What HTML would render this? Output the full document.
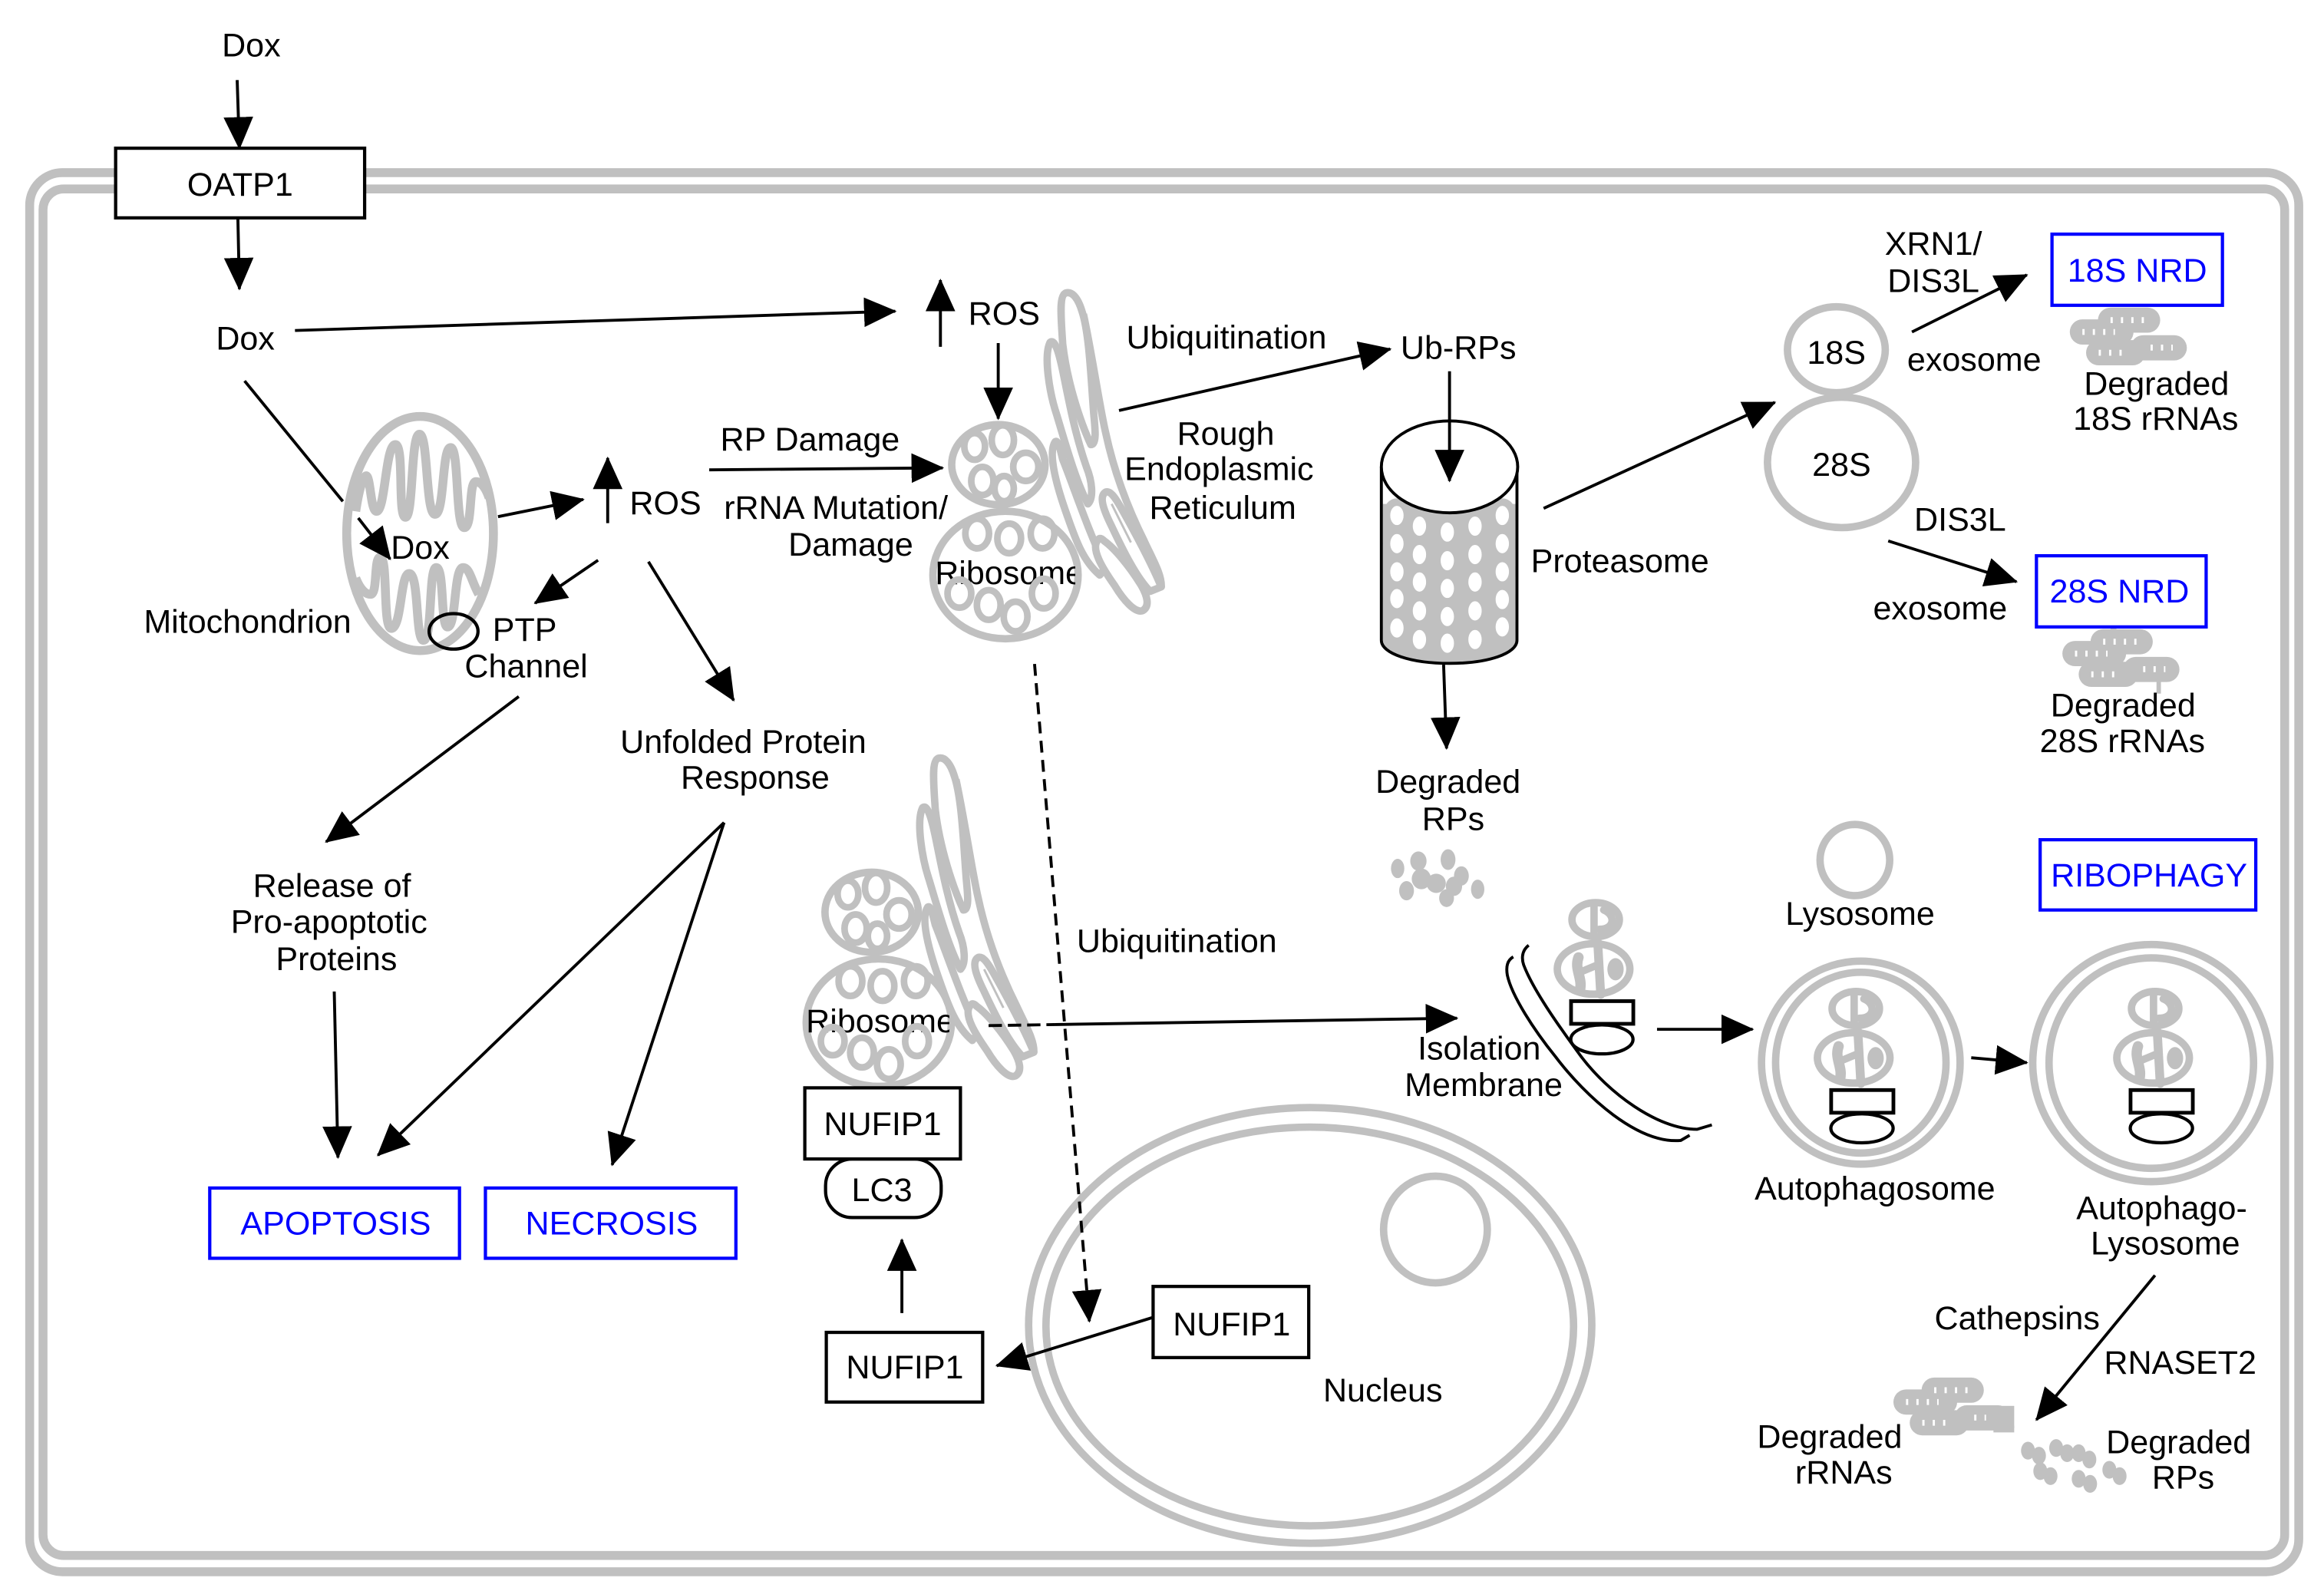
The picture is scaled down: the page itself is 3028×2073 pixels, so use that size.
<!DOCTYPE html>
<html><head><meta charset="utf-8"><title>Dox ribosome diagram</title>
<style>
html,body{margin:0;padding:0;background:#fff}
svg{display:block}
text{font-family:"Liberation Sans",Arial,sans-serif;font-size:22.3px;fill:#000;text-anchor:middle}
.b{fill:#0000ff}
.g{fill:none;stroke:#c0c0c0;stroke-width:5}
.c{fill:none;stroke:#c0c0c0;stroke-width:4.5}
.er{fill:#fff;stroke:#c0c0c0;stroke-width:5;stroke-linejoin:round}
.a{fill:none;stroke:#000;stroke-width:2;marker-end:url(#h)}
.bx{fill:#fff;stroke:#000;stroke-width:2.2}
.bl{fill:#fff;stroke:#0000ff;stroke-width:2.2}
.cap{fill:none;stroke:#c0c0c0;stroke-linecap:round;stroke-width:17}
.dot{fill:none;stroke:#fff;stroke-width:4;stroke-dasharray:1.5 5.5}
.p{fill:#c0c0c0}
.r{fill:#fff;stroke:#c0c0c0;stroke-width:5}
</style></head><body>
<svg xmlns="http://www.w3.org/2000/svg" width="3028" height="2073" viewBox="0 0 1568 1073.5">
<defs>
<marker id="h" markerUnits="userSpaceOnUse" viewBox="0 0 22 20" refX="21" refY="10" markerWidth="22" markerHeight="20" orient="auto"><path d="M0 0L22 10L0 20Z" fill="#000"/></marker>
<clipPath id="c1"><rect x="600" y="360" width="125.5" height="50"/></clipPath>
<clipPath id="c2"><rect x="520" y="665" width="120.5" height="50"/></clipPath>
<g id="rib">
<ellipse class="g" cx="678.4" cy="388" rx="49" ry="43"/>
<ellipse class="r" cx="673.6" cy="313.5" rx="31.5" ry="27"/>
<g class="c">
<ellipse cx="657.6" cy="301.2" rx="7" ry="9"/><ellipse cx="676.6" cy="297" rx="7.5" ry="10"/><ellipse cx="692.1" cy="315" rx="8.5" ry="9.5"/><ellipse cx="662.8" cy="324.5" rx="7.5" ry="9.5"/><ellipse cx="677.5" cy="329.7" rx="6.5" ry="8.5"/>
<ellipse cx="659.3" cy="360" rx="8" ry="10"/><ellipse cx="680.9" cy="363.3" rx="8" ry="10"/><ellipse cx="703.4" cy="360" rx="8" ry="10"/>
</g></g>
<g id="ribl" class="c">
<ellipse cx="647.3" cy="400.5" rx="8" ry="9.5"/><ellipse cx="667.1" cy="408.2" rx="8" ry="10"/><ellipse cx="685.2" cy="416" rx="8" ry="10"/><ellipse cx="704.2" cy="400.5" rx="8" ry="10"/>
</g>
<g id="er">
<path class="er" d="M712 298C707 305 712 325 719 345C725 362 730 378 742 388L746 383C733 355 725 330 717 310C715 302 714 297 712 298Z"/>
<path class="er" d="M708.5 231C704 240 708 265 713 280C719 300 726 325 734 340C738 336 737 325 733 315C726 295 722 275 718 255C715 240 712 228 708.5 231Z"/>
<path class="er" d="M719.8 197.5C714 198 716 215 717 232C720 258 729 285 736 300C740 300 739 290 738 280C736 255 735 225 730 210C727 200 723 197 719.8 197.5Z"/>
<path class="g" d="M731 212C737 240 742 275 746 292C752 320 762 345 772 365C778 378 784 388 783.5 396"/>
<path class="er" d="M746 332C741 335 745 345 750 355C758 372 767 390 776 399L783.5 396C776 378 765 358 756 342C752 335 749 331 746 332Z"/>
<path d="M750 340L763 366" fill="none" stroke="#c0c0c0" stroke-width="1.5"/>
<path class="er" d="M741 364C735 370 745 385 752 395C758 405 766 414 771 412C776 409 774 402 770 395C762 382 752 370 745 365C743 363 742 363 741 364Z"/>
</g>
<g id="cargo">
<ellipse class="g" cx="1076.6" cy="620.5" rx="16" ry="11.5"/>
<ellipse class="g" cx="1075.2" cy="653.8" rx="24.5" ry="17"/>
<g fill="none" stroke="#c0c0c0" stroke-width="5" stroke-linecap="round">
<path d="M1075.5 610V631"/><path d="M1082 614C1090 617 1090 627 1079 627"/>
<path d="M1078 636L1080 671" style="stroke-width:6"/>
<path d="M1065 646C1062 654 1068 660 1066 668" style="stroke-width:7"/><path d="M1066 656L1078 651"/>
</g>
<ellipse cx="1090" cy="654" rx="5.5" ry="7.5" fill="#c0c0c0"/>
<rect class="bx" x="1060" y="675.5" width="42" height="15.3" style="stroke-width:2.5"/>
<ellipse class="bx" cx="1080.8" cy="701.3" rx="21" ry="9.8"/>
</g>
<g id="blob">
<g class="cap">
<path d="M1424 216H1449"/><path d="M1405 224H1431"/><path d="M1416 238H1439"/><path d="M1446 234.7H1467"/>
</g>
<g class="dot">
<path d="M1424 216H1448"/><path d="M1405 224H1427"/><path d="M1416 238H1433"/><path d="M1451 234.5H1466"/>
</g>
</g>
</defs>
<rect width="1568" height="1073.5" fill="#fff"/>

<!-- cell -->
<rect class="g" x="20" y="116.5" width="1531" height="944" rx="22" style="stroke-width:6"/>
<rect class="g" x="29" y="127.5" width="1512.5" height="922" rx="14" style="stroke-width:6"/>
<rect class="bx" x="78" y="100" width="168" height="47"/>

<!-- mitochondrion -->
<ellipse class="g" cx="283.4" cy="360" rx="49.5" ry="79" style="stroke-width:6"/>
<path class="g" d="M240 345C243 325 246 321 247 321C250 321 250 345 254 345C260 345 260 300 266.7 300C273 300 268 349 273.6 349C279 349 277 293 283 293C289 293 287 347 293.5 347C300 347 298 302 304 302C310 302 307 356 313.3 356C319 356 316 325 321 325C325 325 328 330 330 336" style="stroke-width:6"/>
<path class="g" d="M240 390C244 400 248 401 250 401C255 401 252 376 256.5 376C262 376 258 424 264 424C271 424 270 387 276 387C283 387 280 432 285.7 432C292 432 289 383 294.3 383C300 383 297 423 302 423C308 423 306 383 312.4 383C317 383 318 392 323 401" style="stroke-width:6"/>
<ellipse cx="306" cy="426" rx="16.5" ry="12" fill="none" stroke="#000" stroke-width="2.2"/>

<!-- ribosomes + ER -->
<use href="#rib"/>
<text x="681" y="394" clip-path="url(#c1)">Ribosome</text>
<use href="#ribl"/>
<use href="#er"/>
<use href="#rib" transform="translate(-85.5,302)"/>
<text x="594" y="696.5" clip-path="url(#c2)">Ribosome</text>
<use href="#ribl" transform="translate(-85.5,302)"/>
<use href="#er" transform="translate(-86,314)"/>

<!-- nucleus -->
<ellipse class="g" cx="884" cy="894.3" rx="190" ry="147"/>
<ellipse class="g" cx="883.7" cy="895" rx="178" ry="134.5"/>
<ellipse class="g" cx="968.5" cy="829.6" rx="35" ry="36"/>

<!-- proteasome -->
<path d="M933 340V432C933 441 952 446.6 978 446.6C1004 446.6 1022.5 441 1022.5 432V340Z" fill="#c0c0c0"/>
<g class="r">
<ellipse cx="942.5" cy="347.8" rx="7" ry="9"/><ellipse cx="942.5" cy="366.8" rx="7" ry="9"/><ellipse cx="942.5" cy="385.8" rx="7" ry="9"/><ellipse cx="942.5" cy="403.9" rx="7" ry="9"/><ellipse cx="942.5" cy="423.7" rx="7" ry="9"/>
<ellipse cx="1013.6" cy="347.8" rx="7" ry="9"/><ellipse cx="1013.6" cy="366.8" rx="7" ry="9"/><ellipse cx="1013.6" cy="385.8" rx="7" ry="9"/><ellipse cx="1013.6" cy="404.5" rx="7" ry="9"/><ellipse cx="1013.6" cy="423" rx="7" ry="9"/>
<ellipse cx="957.7" cy="355" rx="7" ry="9"/><ellipse cx="957.7" cy="374.2" rx="7" ry="9"/><ellipse cx="957.7" cy="392.7" rx="7" ry="9"/><ellipse cx="957.7" cy="412.2" rx="7" ry="9"/><ellipse cx="957.7" cy="431.5" rx="7" ry="9"/>
<ellipse cx="995.2" cy="355" rx="7" ry="9"/><ellipse cx="995.2" cy="374.2" rx="7" ry="9"/><ellipse cx="995.2" cy="392.7" rx="7" ry="9"/><ellipse cx="995.2" cy="412.2" rx="7" ry="9"/><ellipse cx="995.2" cy="431.5" rx="7" ry="9"/>
<ellipse cx="976.5" cy="359" rx="7" ry="9"/><ellipse cx="976.5" cy="378.3" rx="7" ry="9"/><ellipse cx="976.5" cy="397" rx="7" ry="9"/><ellipse cx="976.5" cy="416" rx="7" ry="9"/><ellipse cx="976.5" cy="434" rx="7" ry="9"/>
</g>
<path d="M932 315V432C932 441 952 447.6 978 447.6C1004 447.6 1023.5 441 1023.5 432V315" fill="none" stroke="#000" stroke-width="2"/>
<ellipse cx="978" cy="315" rx="46" ry="31" fill="#fff" stroke="#000" stroke-width="2"/>

<!-- 18S/28S -->
<ellipse class="g" cx="1239" cy="236" rx="33" ry="29"/>
<ellipse class="g" cx="1242.5" cy="312" rx="50" ry="44" style="fill:#fff"/>

<!-- degraded rRNA blobs -->
<use href="#blob"/>
<use href="#blob" transform="translate(-5,217)"/>
<rect x="1424" y="420" width="4" height="8" fill="#c0c0c0"/>
<rect x="1455" y="456" width="3" height="12" fill="#c0c0c0"/>
<use href="#blob" transform="translate(-119,722)"/>
<rect x="1340" y="948.6" width="19" height="15" fill="#c0c0c0"/>
<rect x="1345" y="962" width="14" height="4.5" fill="#c0c0c0"/>

<!-- degraded RP dots -->
<g class="p">
<ellipse cx="943" cy="586" rx="4.5" ry="6.5"/><ellipse cx="957" cy="581" rx="5.5" ry="6.5"/><ellipse cx="977" cy="580" rx="5" ry="7"/><ellipse cx="959" cy="593" rx="6.5" ry="7"/><ellipse cx="949" cy="601" rx="5" ry="6.5"/><ellipse cx="969" cy="596" rx="6.5" ry="6.5"/><ellipse cx="981" cy="598" rx="5.5" ry="6.5"/><ellipse cx="976" cy="606" rx="5" ry="6"/><ellipse cx="997" cy="600" rx="4.5" ry="6.5"/><ellipse cx="986" cy="591" rx="5" ry="6.5"/>
<ellipse cx="1368.3" cy="978.8" rx="4.7" ry="6"/><ellipse cx="1375.7" cy="982.2" rx="4.7" ry="6"/><ellipse cx="1376.6" cy="992.6" rx="4.7" ry="6"/><ellipse cx="1383.5" cy="996" rx="4.7" ry="6"/><ellipse cx="1387.3" cy="977" rx="4.7" ry="6"/><ellipse cx="1394.7" cy="980.5" rx="4.7" ry="6"/><ellipse cx="1402.5" cy="980.5" rx="4.7" ry="6"/><ellipse cx="1409.7" cy="984.8" rx="4.7" ry="6"/><ellipse cx="1402.5" cy="997.8" rx="4.7" ry="6"/><ellipse cx="1410.2" cy="1001.2" rx="4.7" ry="6"/><ellipse cx="1423.2" cy="991.7" rx="4.7" ry="6"/><ellipse cx="1430.1" cy="996" rx="4.7" ry="6"/>
</g>

<!-- lysosome / autophagy -->
<ellipse class="g" cx="1251.5" cy="580.3" rx="23.5" ry="24"/>
<path d="M1031.4 637.8C1026 642 1027 648 1028 651C1034 667 1050 690 1066.8 712.9C1085 737 1118 762 1145 762L1155 759" fill="none" stroke="#000" stroke-width="2"/>
<path d="M1021 645.6C1017 648 1016 652 1017 658C1020 672 1035 695 1049.5 713C1070 740 1105 772 1134 769.5L1140 766" fill="none" stroke="#000" stroke-width="2"/>
<use href="#cargo"/>
<ellipse class="g" cx="1255.5" cy="717" rx="67" ry="68.5"/>
<ellipse class="g" cx="1255.5" cy="717" rx="57.5" ry="61"/>
<use href="#cargo" transform="translate(175.5,60)"/>
<ellipse class="g" cx="1451.5" cy="717.3" rx="80" ry="80"/>
<ellipse class="g" cx="1451.5" cy="717.3" rx="69" ry="71"/>
<use href="#cargo" transform="translate(377.5,60)"/>

<!-- boxes -->
<rect class="bl" x="141.5" y="801.6" width="168.5" height="47.4"/>
<rect class="bl" x="327.5" y="801.6" width="169" height="47.4"/>
<rect class="bx" x="557" y="782" width="78" height="39.5" rx="18"/>
<rect class="bx" x="543" y="734" width="105" height="48"/>
<rect class="bx" x="557.5" y="899" width="105.5" height="47"/>
<rect class="bx" x="778" y="868" width="105" height="48"/>
<rect class="bl" x="1384.5" y="158" width="115" height="48"/>
<rect class="bl" x="1374" y="375" width="114.5" height="48"/>
<rect class="bl" x="1376.5" y="566.6" width="145.5" height="47.4"/>

<!-- arrows -->
<path class="a" d="M160 54L161.5 100"/>
<path class="a" d="M160.5 148L161.5 195"/>
<path class="a" d="M199 223L604 210"/>
<path class="a" d="M634.5 234V189"/>
<path class="a" d="M673.5 231.5V282.5"/>
<path d="M165 257L231.3 338.3" fill="none" stroke="#000" stroke-width="2"/>
<path class="a" d="M241.7 349.5L263.2 377.2"/>
<path class="a" d="M336 348.6L393.5 337"/>
<path class="a" d="M410 353V309"/>
<path class="a" d="M403.5 378L361 407"/>
<path class="a" d="M437.5 379L495 472.5"/>
<path class="a" d="M478.5 317L636 315.7"/>
<path class="a" d="M350 470L220 568"/>
<path class="a" d="M225.5 669L228 781"/>
<path class="a" d="M488.5 555L255 779.5"/>
<path class="a" d="M488.5 555L413 786"/>
<path class="a" d="M608.5 886V836.5"/>
<path class="a" d="M777.5 889L672.5 921.5"/>
<path class="a" d="M698 448L735 891.5" style="stroke-dasharray:8 5"/>
<path d="M667 692L712 691.3" fill="none" stroke="#000" stroke-width="2" stroke-dasharray="9 4"/>
<path class="a" d="M712 691.3L983 687"/>
<path class="a" d="M755 277L938 235.5"/>
<path class="a" d="M978 250.5V324.5"/>
<path class="a" d="M974 448.5L976 505"/>
<path class="a" d="M1041.5 343L1197.5 271.5"/>
<path class="a" d="M1290 224L1367.5 185.5"/>
<path class="a" d="M1274 365L1360.5 392.5"/>
<path class="a" d="M1118 694.5H1182.5"/>
<path class="a" d="M1330 713.7L1367.5 717"/>
<path class="a" d="M1454 860.5L1374 958"/>

<!-- labels -->
<text x="169.5" y="38">Dox</text>
<text x="162" y="132">OATP1</text>
<text x="165.5" y="236">Dox</text>
<text x="677.5" y="219">ROS</text>
<text x="827.5" y="235">Ubiquitination</text>
<text x="984" y="242">Ub-RPs</text>
<text x="546.5" y="304">RP Damage</text>
<text x="564" y="350">rRNA Mutation/</text>
<text x="574" y="375">Damage</text>
<text x="449" y="347">ROS</text>
<text x="283.5" y="377">Dox</text>
<text x="167" y="427">Mitochondrion</text>
<text x="354" y="432.5">PTP</text>
<text x="355" y="457">Channel</text>
<text x="827" y="300">Rough</text>
<text x="822.5" y="324">Endoplasmic</text>
<text x="825" y="350">Reticulum</text>
<text x="1093" y="386">Proteasome</text>
<text x="1304.5" y="172">XRN1/</text>
<text x="1304.5" y="197">DIS3L</text>
<text x="1239" y="245.5">18S</text>
<text x="1332" y="250">exosome</text>
<text class="b" x="1442" y="190">18S NRD</text>
<text x="1455" y="266.5">Degraded</text>
<text x="1454.5" y="290">18S rRNAs</text>
<text x="1242.5" y="321">28S</text>
<text x="1322.5" y="358">DIS3L</text>
<text x="1309" y="418">exosome</text>
<text class="b" x="1430" y="406.5">28S NRD</text>
<text x="1432.5" y="483.5">Degraded</text>
<text x="1432" y="507.5">28S rRNAs</text>
<text x="977" y="535">Degraded</text>
<text x="980.5" y="560">RPs</text>
<text x="501.5" y="508">Unfolded Protein</text>
<text x="509.5" y="532">Response</text>
<text x="224" y="605">Release of</text>
<text x="222" y="629.5">Pro-apoptotic</text>
<text x="227" y="654.5">Proteins</text>
<text class="b" x="226.5" y="833">APOPTOSIS</text>
<text class="b" x="412.7" y="833">NECROSIS</text>
<text x="595.5" y="766">NUFIP1</text>
<text x="595" y="810.5">LC3</text>
<text x="610.5" y="930">NUFIP1</text>
<text x="831" y="901">NUFIP1</text>
<text x="794" y="642.5">Ubiquitination</text>
<text x="998" y="715">Isolation</text>
<text x="1001" y="739.5">Membrane</text>
<text x="933" y="945.5">Nucleus</text>
<text x="1255" y="624">Lysosome</text>
<text class="b" x="1450" y="598">RIBOPHAGY</text>
<text x="1265" y="809.5">Autophagosome</text>
<text x="1458.5" y="822.5">Autophago-</text>
<text x="1461" y="846.5">Lysosome</text>
<text x="1361" y="897">Cathepsins</text>
<text x="1471" y="927">RNASET2</text>
<text x="1234.5" y="977">Degraded</text>
<text x="1244" y="1001">rRNAs</text>
<text x="1470" y="980.5">Degraded</text>
<text x="1473" y="1004.5">RPs</text>
</svg>
</body></html>
